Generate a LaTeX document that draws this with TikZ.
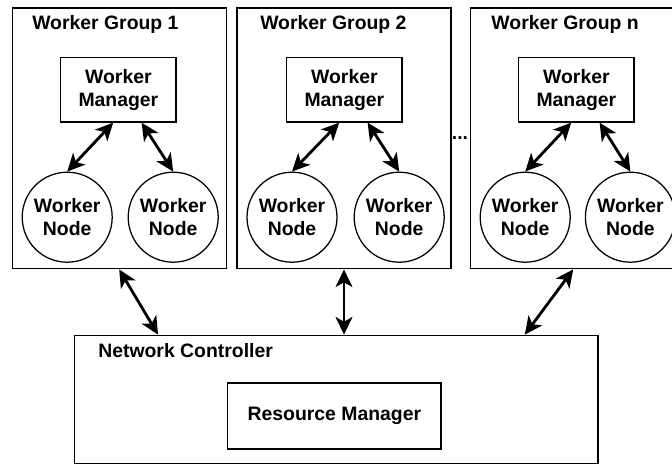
\documentclass[tikz,border=0pt]{standalone}
\usepackage{fontspec}
\setmainfont{Liberation Sans}
\usepackage{tikz}
\usetikzlibrary{arrows.meta}

\begin{document}
\begin{tikzpicture}[
        font=\bfseries\fontsize{13.8pt}{16.3pt}\selectfont,
        groupbox/.style={draw, line width=0.9pt, minimum width=5.35cm, minimum height=6.52cm, inner sep=0pt},
        mgrbox/.style={draw, line width=0.9pt, minimum width=2.88cm, minimum height=1.62cm, align=center, inner sep=0pt},
        wnode/.style={draw, circle, line width=0.9pt, minimum size=2.25cm, align=center, inner sep=0pt},
        title/.style={anchor=base west, inner sep=0pt},
        link/.style={line width=2pt, {Stealth[length=4.4mm, width=4.2mm, inset=1.2mm]}-{Stealth[length=4.4mm, width=4.2mm, inset=1.2mm]}}]
            \clip                                    ( 0.00, 0.00) rectangle (16.80,-11.65);
            \fill[white]                             ( 0.00, 0.00) rectangle (16.80,-11.65);
            \node[groupbox]               (g1)  at ( 2.98,-3.46) {};
            \node[groupbox]               (g2)  at ( 8.60,-3.46) {};
            \node[groupbox]               (g3)  at (14.43,-3.46) {};
            \node[title]                  (g1t) at ( 0.80,-0.74) {Worker Group 1};
            \node[title]                  (g2t) at ( 6.50,-0.74) {Worker Group 2};
            \node[title]                  (g3t) at (12.28,-0.74) {Worker Group n};
            \node[anchor=base]            (dots) at (11.50,-3.48) {...};
            \node[mgrbox]                 (m1)  at ( 2.96,-2.24) {Worker\\Manager};
            \node[mgrbox]                 (m2)  at ( 8.61,-2.24) {Worker\\Manager};
            \node[mgrbox]                 (m3)  at (14.41,-2.24) {Worker\\Manager};
            \node[wnode]                  (n1a) at ( 1.68,-5.43) {Worker\\Node};
            \node[wnode]                  (n1b) at ( 4.33,-5.43) {Worker\\Node};
            \node[wnode]                  (n2a) at ( 7.30,-5.43) {Worker\\Node};
            \node[wnode]                  (n2b) at ( 9.98,-5.43) {Worker\\Node};
            \node[wnode]                  (n3a) at (13.13,-5.43) {Worker\\Node};
            \node[wnode]                  (n3b) at (15.76,-5.43) {Worker\\Node};
            \node[draw, line width=0.9pt, minimum width=13.08cm, minimum height=3.20cm] (nc) at ( 8.41,-9.98) {};
            \node[title]                  (nct) at ( 2.45,-8.93) {Network Controller};
            \node[draw, line width=0.9pt, minimum width=5.33cm, minimum height=1.65cm]  (rm) at ( 8.36,-10.40) {Resource Manager};
            \draw[link] ([xshift=-0.13cm]m1.south) -- (n1a.north);
            \draw[link] ([xshift= 0.58cm]m1.south) -- (n1b.north);
            \draw[link] ([xshift=-0.13cm]m2.south) -- (n2a.north);
            \draw[link] ([xshift= 0.58cm]m2.south) -- (n2b.north);
            \draw[link] ([xshift=-0.13cm]m3.south) -- (n3a.north);
            \draw[link] ([xshift= 0.58cm]m3.south) -- (n3b.north);
            \draw[link] (g1.south)                  -- ([xshift=-4.46cm]nc.north);
            \draw[link] (g2.south)                  -- (g2.south |- nc.north);
            \draw[link] ([xshift=-0.10cm]g3.south) -- ([xshift= 4.71cm]nc.north);
            \end{tikzpicture}
\end{document}
